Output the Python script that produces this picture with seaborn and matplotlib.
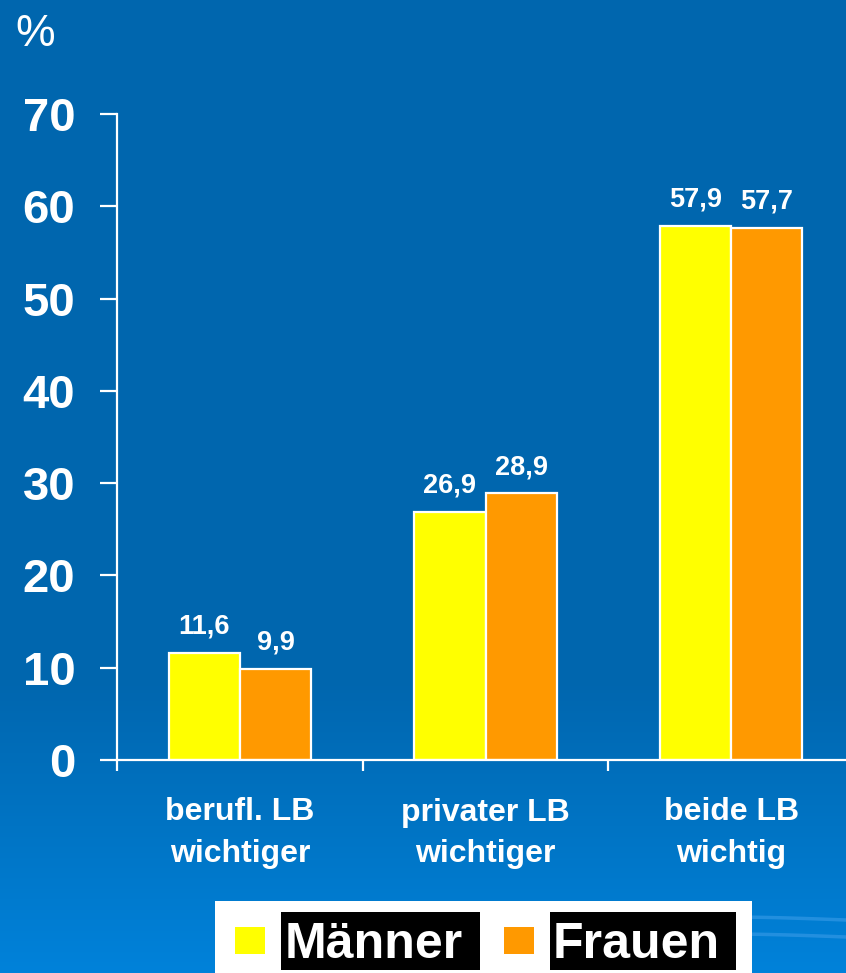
import numpy as np
import pandas as pd
import matplotlib
matplotlib.use("Agg")
import matplotlib.pyplot as plt
from matplotlib.patches import Rectangle
import seaborn as sns

# Data
kategorien = ["berufl. LB\nwichtiger", "privater LB\nwichtiger", "beide LB\nwichtig"]
maenner = [11.6, 26.9, 57.9]
frauen = [9.9, 28.9, 57.7]
gruppen = ["Männer", "Frauen"]
y_ticks = [0, 10, 20, 30, 40, 50, 60, 70]

farben = ["#FFFF00", "#FF9900"]
bg_top = np.array([0x00, 0x66, 0xAE]) / 255
bg_bottom = np.array([0x00, 0x82, 0xDA]) / 255

df = pd.DataFrame({
    "Kategorie": kategorien * 2,
    "Anteil": maenner + frauen,
    "Geschlecht": [gruppen[0]] * 3 + [gruppen[1]] * 3,
})

sns.set_theme(style="white")
plt.rcParams["font.family"] = ["Liberation Sans", "DejaVu Sans"]

W, H = 846, 973
fig = plt.figure(figsize=(W / 100, H / 100), dpi=100)

# Background gradient: flat blue on top, lighter towards the bottom
bg = fig.add_axes([0, 0, 1, 1], zorder=0)
rows = np.linspace(0, 1, H)
t = np.clip((rows * H - 680) / (H - 680), 0, 1)
grad = bg_top[None, :] * (1 - t[:, None]) + bg_bottom[None, :] * t[:, None]
img = np.repeat(grad[:, None, :], 10, axis=1)
bg.imshow(img, aspect="auto", extent=[0, W, H, 0])
# faint waves in the lower right corner
xs = np.linspace(600, W, 100)
for y0 in (920, 937):
    bg.plot(xs, y0 - 3 * np.sin((xs - 600) / 246 * np.pi), color="#3A9CE8",
            lw=2.5, alpha=0.6)
bg.set_xlim(0, W)
bg.set_ylim(H, 0)
bg.axis("off")

# Main bar chart
ax = fig.add_axes([117 / W, (H - 760) / H, 737 / W, 646 / H], zorder=1)
ax.patch.set_visible(False)
sns.barplot(data=df, x="Kategorie", y="Anteil", hue="Geschlecht",
            hue_order=gruppen, palette=farben, saturation=1, width=0.58,
            gap=0, edgecolor="white", linewidth=1.6, errorbar=None,
            legend=False, ax=ax)
ax.set_xlim(-0.5, 2.5)
ax.set_ylim(0, 70)
ax.set_xlabel("")
ax.set_ylabel("")

for cont in ax.containers:
    labels = [f"{v:.1f}".replace(".", ",") for v in cont.datavalues]
    ax.bar_label(cont, labels=labels, padding=9.5, color="white",
                 fontsize=19.5, fontweight="bold")

for side in ("top", "right"):
    ax.spines[side].set_visible(False)
for side in ("left", "bottom"):
    ax.spines[side].set_color("white")
    ax.spines[side].set_linewidth(1.6)

ax.set_yticks(y_ticks)
ax.set_yticklabels([str(v) for v in y_ticks])
ax.tick_params(axis="y", direction="out", length=12, width=1.6,
               color="white", labelcolor="white", labelsize=34, pad=18,
               left=True)
for lab in ax.get_yticklabels():
    lab.set_fontweight("bold")

ax.set_xticks(range(len(kategorien)))
ax.set_xticklabels(kategorien, linespacing=1.5)
ax.tick_params(axis="x", which="major", length=0, labelcolor="white",
               labelsize=23, pad=27)
for lab in ax.get_xticklabels():
    lab.set_fontweight("bold")
ax.set_xticks([-0.5, 0.5, 1.5, 2.5], minor=True)
ax.tick_params(axis="x", which="minor", direction="out", length=8,
               width=1.6, color="white", bottom=True)

# Unit label
fig.text(15 / W, 1 - 46 / H, "%", color="white", fontsize=32,
         ha="left", va="baseline")

# Legend panel
ov = fig.add_axes([0, 0, 1, 1], zorder=2)
ov.patch.set_visible(False)
ov.set_xlim(0, W)
ov.set_ylim(H, 0)
ov.axis("off")
ov.add_patch(Rectangle((215, 901), 537, 80, facecolor="white",
                       edgecolor="none"))
swatches = [(235, 281, 480, 374), (504, 550, 736, 636)]
for (sx, bx0, bx1, tx), farbe, name in zip(swatches, farben, gruppen):
    ov.add_patch(Rectangle((sx, 927), 30, 27, facecolor=farbe,
                           edgecolor="none"))
    ov.add_patch(Rectangle((bx0, 912), bx1 - bx0, 58, facecolor="black",
                           edgecolor="none"))
    ov.text(tx, 958, name, color="white", fontsize=36, fontweight="bold",
            ha="center", va="baseline")

fig.savefig("out.png", dpi=100)
